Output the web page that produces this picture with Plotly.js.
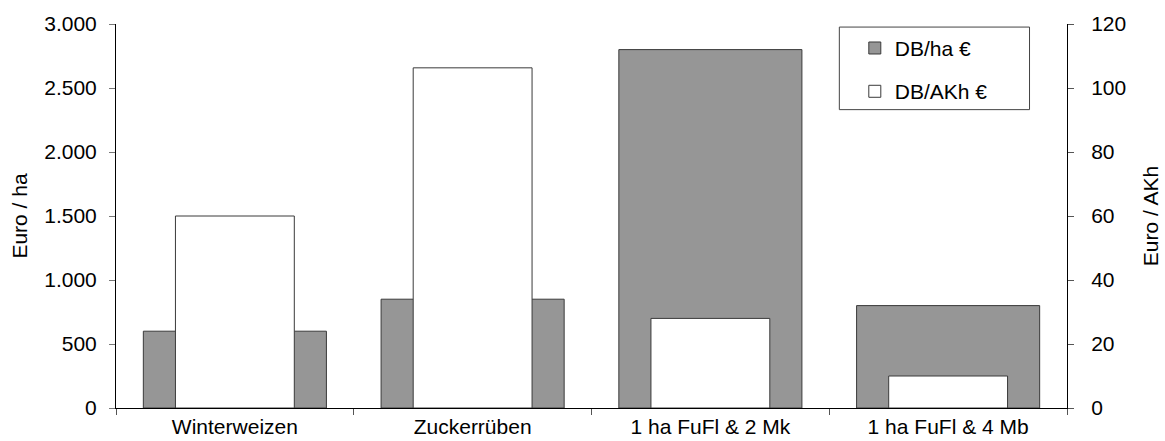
<!DOCTYPE html>
<html>
<head>
<meta charset="utf-8">
<script src="https://cdn.plot.ly/plotly-3.0.1.min.js"></script>
<style>
  html, body { margin: 0; padding: 0; background: #fff; }
  #chart { width: 1165px; height: 441px; }
</style>
</head>
<body>
<div id="chart"></div>
<script>
// Deckungsbeitrag je Verfahren
const categories = ['Winterweizen', 'Zuckerrüben', '1 ha FuFl & 2 Mk', '1 ha FuFl & 4 Mb'];
const dbHa = [600, 850, 2800, 800];      // DB/ha €  (left axis, Euro / ha)
const dbAKh = [60, 106.3, 28, 10];       // DB/AKh € (right axis, Euro / AKh)
const leftTicks = [0, 500, 1000, 1500, 2000, 2500, 3000];
const leftTickText = ['0', '500', '1.000', '1.500', '2.000', '2.500', '3.000'];
const rightTicks = [0, 20, 40, 60, 80, 100, 120];

const FONT = 'Liberation Sans, Arial, sans-serif';
const FS = 21;

const traces = [
  {
    type: 'bar',
    name: 'DB/ha €',
    x: categories,
    y: dbHa,
    xaxis: 'x',
    yaxis: 'y',
    width: 0.77,
    offset: -0.385,
    marker: { color: '#969696', line: { color: '#3a3a3a', width: 1 } },
    hoverinfo: 'skip',
    legendgroup: 'a'
  },
  {
    type: 'bar',
    name: 'DB/AKh €',
    x: categories,
    y: dbAKh,
    xaxis: 'x',
    yaxis: 'y2',
    width: 0.5,
    offset: -0.25,
    marker: { color: '#ffffff', line: { color: '#3a3a3a', width: 1 } },
    hoverinfo: 'skip',
    legendgroup: 'b'
  }
];

// inner halves of the crossing tick marks
const innerTickAxis = {
  showline: false, showgrid: false, zeroline: false,
  showticklabels: false, ticks: 'inside', ticklen: 6, tickcolor: '#555',
  fixedrange: true
};

const layout = {
  width: 1165,
  height: 441,
  margin: { l: 116, r: 98, t: 24, b: 33 },
  paper_bgcolor: '#ffffff',
  plot_bgcolor: '#ffffff',
  font: { family: FONT, size: FS, color: '#000' },
  barmode: 'overlay',
  showlegend: true,
  legend: {
    x: 0.759, y: 0.99, xanchor: 'left', yanchor: 'top',
    bgcolor: 'rgba(0,0,0,0)',
    borderwidth: 0,
    font: { family: FONT, size: FS, color: '#000' },
    traceorder: 'grouped',
    tracegroupgap: 13,
    indentation: 17
  },
  // frame around the legend
  shapes: [{
    type: 'rect', xref: 'paper', yref: 'paper', layer: 'above',
    x0: 0.7606, x1: 0.9606, y0: 0.777, y1: 0.992,
    line: { color: '#444', width: 1 }, fillcolor: 'rgba(0,0,0,0)'
  }],
  xaxis: {
    type: 'category',
    range: [-0.5, 3.5],
    showline: true, linecolor: '#000', linewidth: 1,
    ticks: 'outside', ticklen: 6, tickcolor: '#555', tickson: 'boundaries',
    showgrid: false, zeroline: false,
    tickfont: { family: FONT, size: FS },
    fixedrange: true
  },
  xaxis2: Object.assign({}, innerTickAxis, {
    overlaying: 'x', anchor: 'y', side: 'bottom',
    range: [-0.5, 3.5], tickvals: [0.5, 1.5, 2.5]
  }),
  yaxis: {
    range: [0, 3000],
    tickvals: leftTicks, ticktext: leftTickText,
    showline: true, linecolor: '#000', linewidth: 1,
    ticks: 'outside', ticklen: 6, tickcolor: '#777',
    ticklabelstandoff: 8,
    showgrid: false, zeroline: false,
    tickfont: { family: FONT, size: FS },
    title: { text: 'Euro / ha', font: { family: FONT, size: FS }, standoff: 10 },
    fixedrange: true
  },
  yaxis2: {
    overlaying: 'y', side: 'right', anchor: 'x',
    range: [0, 120],
    tickvals: rightTicks,
    showline: true, linecolor: '#000', linewidth: 1,
    ticks: 'outside', ticklen: 6, tickcolor: '#555',
    ticklabelstandoff: 13,
    showgrid: false, zeroline: false,
    tickfont: { family: FONT, size: FS },
    title: { text: 'Euro / AKh', font: { family: FONT, size: FS }, standoff: 18 },
    fixedrange: true
  },
  yaxis3: Object.assign({}, innerTickAxis, {
    overlaying: 'y', side: 'left', anchor: 'x',
    range: [0, 3000], tickvals: leftTicks, tickcolor: '#777'
  }),
  yaxis4: Object.assign({}, innerTickAxis, {
    overlaying: 'y', side: 'right', anchor: 'x',
    range: [0, 120], tickvals: rightTicks
  })
};

Plotly.newPlot('chart', traces, layout, { displayModeBar: false, staticPlot: true });
</script>
</body>
</html>
